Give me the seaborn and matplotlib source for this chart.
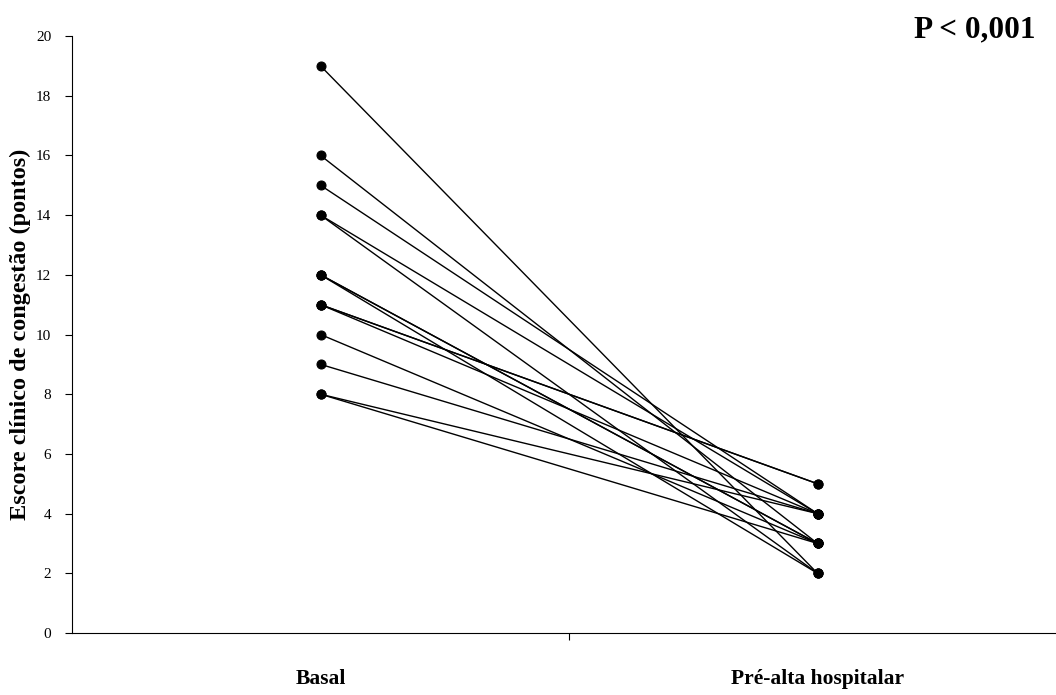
import matplotlib
matplotlib.use("Agg")
import matplotlib.pyplot as plt
import seaborn as sns
import pandas as pd

# Paired congestion scores, one entry per patient
patient = list(range(1, 16))
basal = [19, 16, 15, 14, 14, 12, 12, 12, 11, 11, 11, 10, 9, 8, 8]
pre_alta = [2, 3, 4, 4, 2, 3, 3, 2, 5, 5, 4, 3, 4, 4, 3]
moments = ["Basal", "Pré-alta hospitalar"]
y_ticks = list(range(0, 21, 2))
p_text = "P < 0,001"

df = pd.DataFrame({
    "paciente": patient * 2,
    "momento": [moments[0]] * len(patient) + [moments[1]] * len(patient),
    "escore": basal + pre_alta,
})

sns.set_style("white")
plt.rcParams["font.family"] = ["Liberation Serif", "DejaVu Serif"]
plt.rcParams.update({
    "text.color": "black",
    "axes.labelcolor": "black",
    "xtick.color": "black",
    "ytick.color": "black",
})

fig = plt.figure(figsize=(10.56, 6.95), dpi=100)
ax = fig.add_axes([72 / 1056, (695 - 633) / 695, (1066 - 72) / 1056, (633 - 36) / 695])

sns.lineplot(
    data=df, x="momento", y="escore", units="paciente", estimator=None,
    color="black", linewidth=1.0, marker="o", markersize=6.5,
    markeredgecolor="black", markerfacecolor="black", sort=False, ax=ax,
)

ax.set_ylim(0, 20)
ax.set_xlim(-0.5, 1.5)
ax.set_yticks(y_ticks)
ax.set_yticklabels([str(v) for v in y_ticks], fontsize=11)
ax.tick_params(axis="y", direction="out", length=5, width=0.8, pad=10, left=True,
               colors="black")

ax.set_xticks([0, 1])
ax.set_xticklabels(moments, fontsize=15.5, fontweight="bold")
ax.tick_params(axis="x", which="major", length=0, pad=26, colors="black")
ax.set_xticks([0.5], minor=True)
ax.tick_params(axis="x", which="minor", direction="out", length=5, width=0.8,
               bottom=True, colors="black")

ax.set_xlabel("")
ax.set_ylabel("Escore clínico de congestão (pontos)", fontsize=17.5, fontweight="bold",
              va="center", color="black")
ax.yaxis.set_label_coords(-52 / 994, 0.5 + (335 - 334.5) / 597)

for side in ["top", "right"]:
    ax.spines[side].set_visible(False)
for side in ["left", "bottom"]:
    ax.spines[side].set_color("black")
    ax.spines[side].set_linewidth(0.8)

fig.text(1035 / 1056, 1 - 30 / 695, p_text, ha="right", va="center",
         fontsize=22.5, fontweight="bold", color="black")

fig.savefig("out.png", dpi=100, facecolor="white")
